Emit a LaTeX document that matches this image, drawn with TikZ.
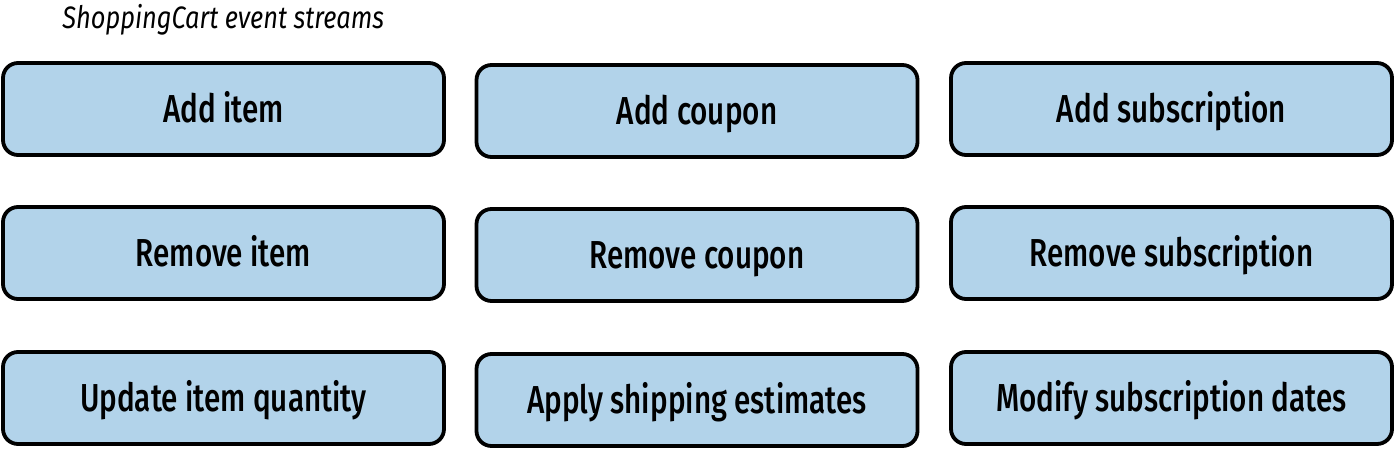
\documentclass[tikz,border=0pt]{standalone}
\usepackage{fontspec}
\setmainfont{Fira Sans}
\newfontfamily\boxfont[FakeStretch=0.76]{Fira Sans Medium}
\newfontfamily\titlefont[FakeStretch=0.82]{Fira Sans Italic}
\definecolor{boxblue}{HTML}{B2D3EA}
\begin{document}
\begin{tikzpicture}[x=0.5pt,y=-0.5pt,
  evbox/.style={draw=black, line width=1.9pt, fill=boxblue, rounded corners=7.5pt,
    minimum width=220.5pt, minimum height=46pt, inner sep=0pt,
    font=\boxfont\fontsize{19.5}{23}\selectfont, text height=13.4pt, text depth=0pt},
  title/.style={anchor=base west, inner sep=0pt, font=\titlefont\fontsize{15.5}{18}\selectfont}]
\useasboundingbox (0,0) rectangle (1395,449);
\node[title] (t) at (62,29) {ShoppingCart event streams};
\node[evbox] (a1) at (223.5,109) {Add item};
\node[evbox] (a2) at (223.5,253) {Remove item};
\node[evbox] (a3) at (223.5,398) {Update item quantity};
\node[evbox] (b1) at (697,111) {Add coupon};
\node[evbox] (b2) at (697,255) {Remove coupon};
\node[evbox] (b3) at (697,400) {Apply shipping estimates};
\node[evbox] (c1) at (1171.5,109) {Add subscription};
\node[evbox] (c2) at (1171.5,253) {Remove subscription};
\node[evbox] (c3) at (1171.5,398) {Modify subscription dates};
\end{tikzpicture}
\end{document}
